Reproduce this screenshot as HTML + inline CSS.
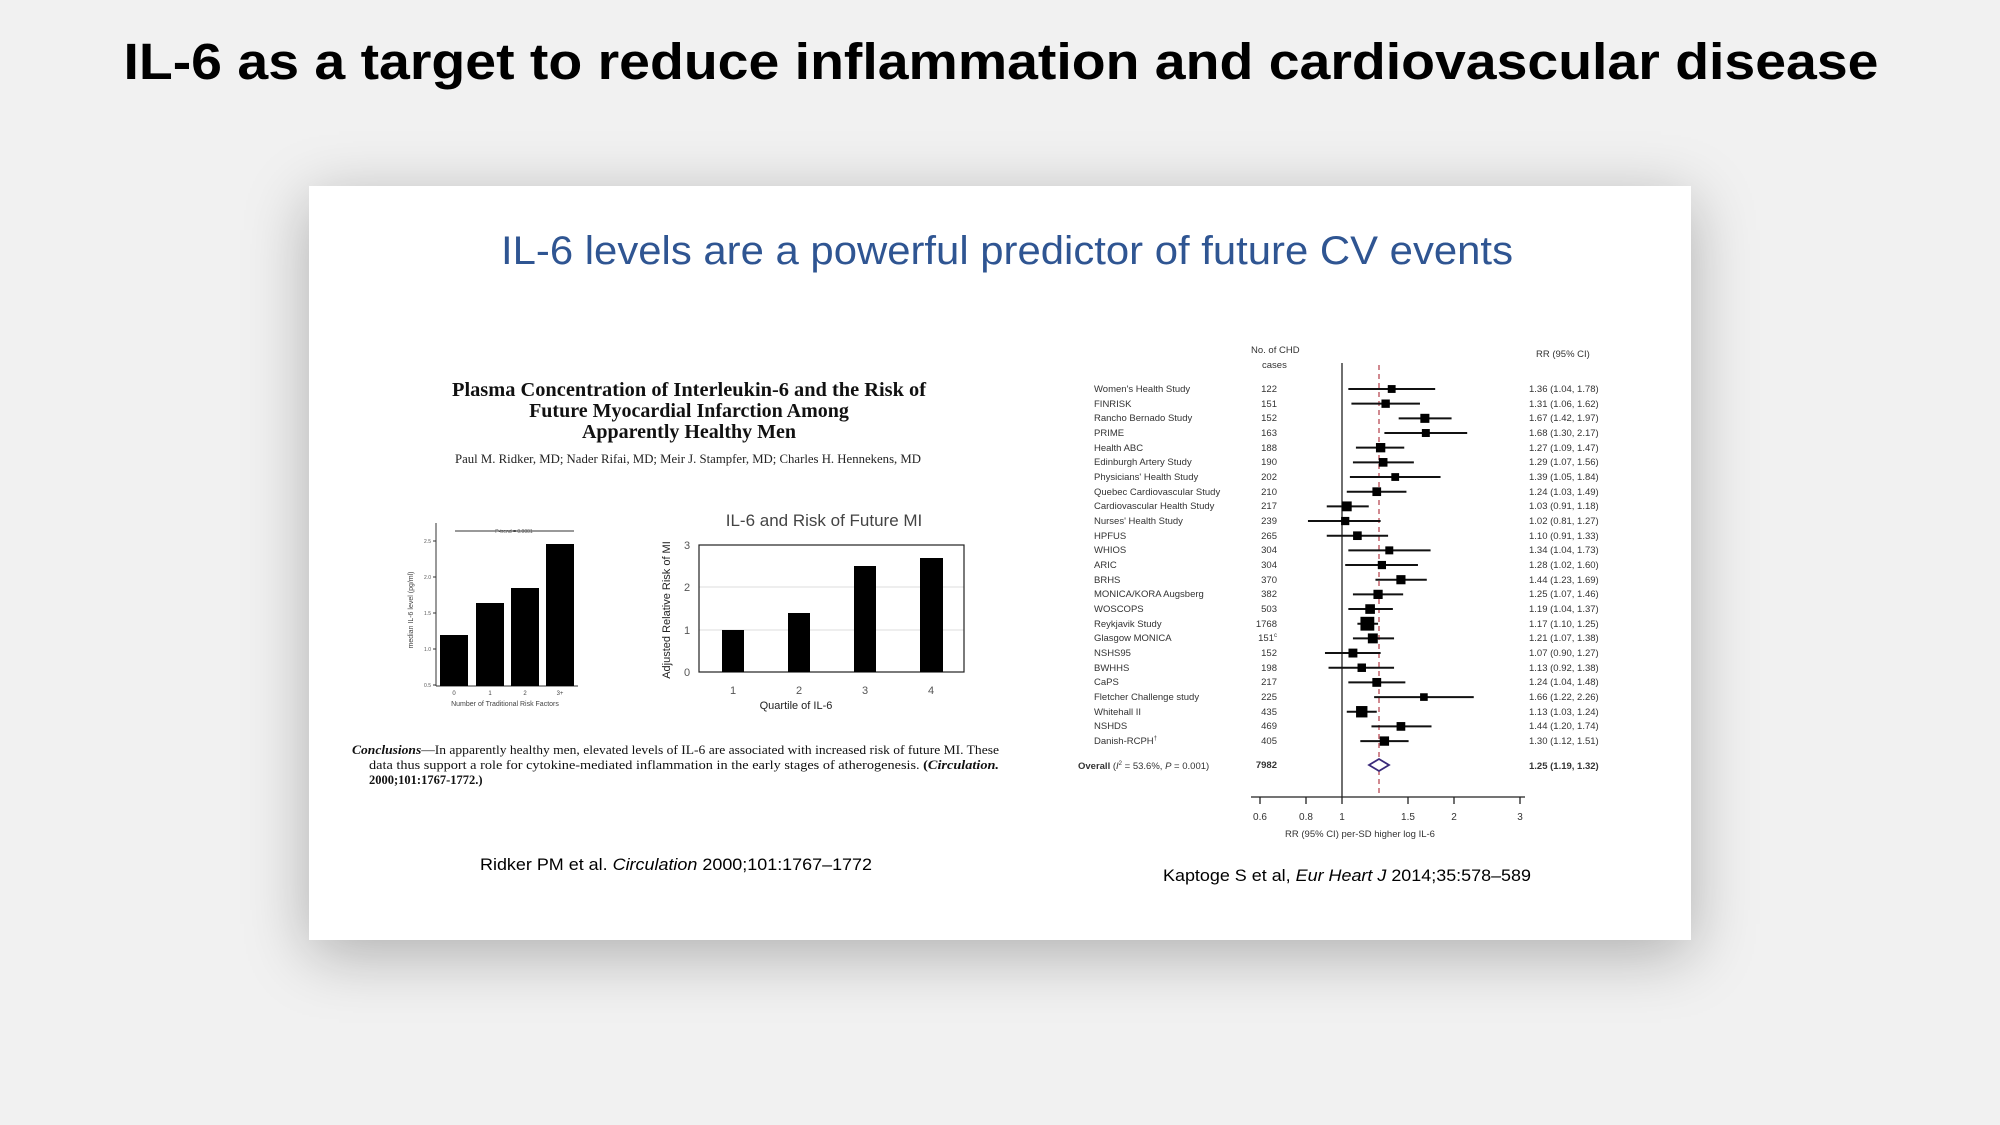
<!DOCTYPE html>
<html><head><meta charset="utf-8"><style>
html,body{margin:0;padding:0;}
body{width:2000px;height:1125px;background:#f1f1f1;position:relative;overflow:hidden;font-family:"Liberation Sans",sans-serif;}
.card{position:absolute;left:309px;top:186px;width:1382px;height:754px;background:#fff;box-shadow:0 14px 60px rgba(0,0,0,0.28);}
svg{position:absolute;left:0;top:0;}
</style></head><body>
<div class="card"></div>
<svg width="2000" height="1125" viewBox="0 0 2000 1125" xmlns="http://www.w3.org/2000/svg" font-family="Liberation Sans, sans-serif">
<text x="1001" y="79" font-size="51" font-weight="bold" text-anchor="middle" textLength="1755" lengthAdjust="spacingAndGlyphs" fill="#000">IL-6 as a target to reduce inflammation and cardiovascular disease</text>
<text x="1007" y="264" font-size="40" text-anchor="middle" textLength="1012" lengthAdjust="spacingAndGlyphs" fill="#2f5592">IL-6 levels are a powerful predictor of future CV events</text>

<g font-family="Liberation Serif, serif" font-weight="bold" font-size="20" text-anchor="middle" fill="#111">
<text x="689" y="396" textLength="474" lengthAdjust="spacingAndGlyphs">Plasma Concentration of Interleukin-6 and the Risk of</text>
<text x="689" y="417">Future Myocardial Infarction Among</text>
<text x="689" y="438">Apparently Healthy Men</text>
</g>
<text x="688" y="463" font-family="Liberation Serif, serif" font-size="12.5" text-anchor="middle" textLength="466" lengthAdjust="spacingAndGlyphs" fill="#222">Paul M. Ridker, MD; Nader Rifai, MD; Meir J. Stampfer, MD; Charles H. Hennekens, MD</text>

<g stroke="#333" stroke-width="1" fill="none">
<line x1="436" y1="523" x2="436" y2="686"/>
<line x1="436" y1="686" x2="578" y2="686"/>
<line x1="433" y1="541" x2="436" y2="541"/><line x1="433" y1="577" x2="436" y2="577"/><line x1="433" y1="613" x2="436" y2="613"/><line x1="433" y1="649" x2="436" y2="649"/><line x1="433" y1="685" x2="436" y2="685"/>
<line x1="455" y1="531" x2="574" y2="531"/>
</g>
<g fill="#000">
<rect x="440" y="635" width="28" height="51"/>
<rect x="476" y="603" width="28" height="83"/>
<rect x="511" y="588" width="28" height="98"/>
<rect x="546" y="544" width="28" height="142"/>
</g>
<g font-size="5" fill="#555" text-anchor="end">
<text x="431" y="543">2.5</text><text x="431" y="579">2.0</text><text x="431" y="615">1.5</text><text x="431" y="651">1.0</text><text x="431" y="687">0.5</text>
</g>
<text x="514" y="533" font-size="5" fill="#555" text-anchor="middle">P-trend = 0.0001</text>
<g font-size="6" fill="#444" text-anchor="middle">
<text x="454" y="695">0</text><text x="490" y="695">1</text><text x="525" y="695">2</text><text x="560" y="695">3+</text>
<text x="505" y="706" font-size="7">Number of Traditional Risk Factors</text>
<text transform="translate(413,610) rotate(-90)" font-size="7">median IL-6 level (pg/ml)</text>
</g>

<text x="824" y="526" font-size="17" fill="#444" text-anchor="middle">IL-6 and Risk of Future MI</text>
<g stroke="#ddd" stroke-width="1"><line x1="699" y1="587" x2="964" y2="587"/><line x1="699" y1="630" x2="964" y2="630"/></g>
<rect x="699" y="545" width="265" height="127" fill="none" stroke="#222" stroke-width="1.2"/>
<g fill="#000">
<rect x="722" y="630" width="22" height="42"/>
<rect x="788" y="613" width="22" height="59"/>
<rect x="854" y="566" width="22" height="106"/>
<rect x="920" y="558" width="23" height="114"/>
</g>
<g font-size="11" fill="#555" text-anchor="middle">
<text x="687" y="549">3</text><text x="687" y="591">2</text><text x="687" y="634">1</text><text x="687" y="676">0</text>
<text x="733" y="694">1</text><text x="799" y="694">2</text><text x="865" y="694">3</text><text x="931" y="694">4</text>
</g>
<text x="796" y="709" font-size="11" fill="#222" text-anchor="middle">Quartile of IL-6</text>
<text transform="translate(670,610) rotate(-90)" font-size="11" fill="#222" text-anchor="middle">Adjusted Relative Risk of MI</text>

<g font-family="Liberation Serif, serif" font-size="12.5" fill="#111">
<text x="352" y="754" textLength="647" lengthAdjust="spacingAndGlyphs"><tspan font-weight="bold" font-style="italic">Conclusions</tspan>—In apparently healthy men, elevated levels of IL-6 are associated with increased risk of future MI. These</text>
<text x="369" y="769" textLength="630" lengthAdjust="spacingAndGlyphs">data thus support a role for cytokine-mediated inflammation in the early stages of atherogenesis. <tspan font-weight="bold">(<tspan font-style="italic">Circulation.</tspan></tspan></text>
<text x="369" y="784" font-weight="bold">2000;101:1767-1772.)</text>
</g>

<text x="480" y="870" font-size="17" fill="#000" textLength="392" lengthAdjust="spacingAndGlyphs">Ridker PM et al. <tspan font-style="italic">Circulation</tspan> 2000;101:1767–1772</text>
<text x="1163" y="881" font-size="17" fill="#000" textLength="368" lengthAdjust="spacingAndGlyphs">Kaptoge S et al, <tspan font-style="italic">Eur Heart J</tspan> 2014;35:578–589</text>

<g font-size="9.5" fill="#333">
<text x="1251" y="353">No. of CHD</text>
<text x="1262" y="368">cases</text>
<text x="1536" y="357">RR (95% CI)</text>
</g>
<line x1="1342" y1="363" x2="1342" y2="797" stroke="#222" stroke-width="1.3"/>
<line x1="1379" y1="365" x2="1379" y2="797" stroke="#b84a55" stroke-width="1.3" stroke-dasharray="5,4"/>
<g id="forest"></g>
<g font-size="9.5" fill="#333">
<text x="1094" y="392">Women's Health Study</text><text x="1277" y="392" text-anchor="end">122</text><text x="1529" y="392">1.36 (1.04, 1.78)</text>
<text x="1094" y="407">FINRISK</text><text x="1277" y="407" text-anchor="end">151</text><text x="1529" y="407">1.31 (1.06, 1.62)</text>
<text x="1094" y="421">Rancho Bernado Study</text><text x="1277" y="421" text-anchor="end">152</text><text x="1529" y="421">1.67 (1.42, 1.97)</text>
<text x="1094" y="436">PRIME</text><text x="1277" y="436" text-anchor="end">163</text><text x="1529" y="436">1.68 (1.30, 2.17)</text>
<text x="1094" y="451">Health ABC</text><text x="1277" y="451" text-anchor="end">188</text><text x="1529" y="451">1.27 (1.09, 1.47)</text>
<text x="1094" y="465">Edinburgh Artery Study</text><text x="1277" y="465" text-anchor="end">190</text><text x="1529" y="465">1.29 (1.07, 1.56)</text>
<text x="1094" y="480">Physicians' Health Study</text><text x="1277" y="480" text-anchor="end">202</text><text x="1529" y="480">1.39 (1.05, 1.84)</text>
<text x="1094" y="495">Quebec Cardiovascular Study</text><text x="1277" y="495" text-anchor="end">210</text><text x="1529" y="495">1.24 (1.03, 1.49)</text>
<text x="1094" y="509">Cardiovascular Health Study</text><text x="1277" y="509" text-anchor="end">217</text><text x="1529" y="509">1.03 (0.91, 1.18)</text>
<text x="1094" y="524">Nurses' Health Study</text><text x="1277" y="524" text-anchor="end">239</text><text x="1529" y="524">1.02 (0.81, 1.27)</text>
<text x="1094" y="539">HPFUS</text><text x="1277" y="539" text-anchor="end">265</text><text x="1529" y="539">1.10 (0.91, 1.33)</text>
<text x="1094" y="553">WHIOS</text><text x="1277" y="553" text-anchor="end">304</text><text x="1529" y="553">1.34 (1.04, 1.73)</text>
<text x="1094" y="568">ARIC</text><text x="1277" y="568" text-anchor="end">304</text><text x="1529" y="568">1.28 (1.02, 1.60)</text>
<text x="1094" y="583">BRHS</text><text x="1277" y="583" text-anchor="end">370</text><text x="1529" y="583">1.44 (1.23, 1.69)</text>
<text x="1094" y="597">MONICA/KORA Augsberg</text><text x="1277" y="597" text-anchor="end">382</text><text x="1529" y="597">1.25 (1.07, 1.46)</text>
<text x="1094" y="612">WOSCOPS</text><text x="1277" y="612" text-anchor="end">503</text><text x="1529" y="612">1.19 (1.04, 1.37)</text>
<text x="1094" y="627">Reykjavik Study</text><text x="1277" y="627" text-anchor="end">1768</text><text x="1529" y="627">1.17 (1.10, 1.25)</text>
<text x="1094" y="641">Glasgow MONICA</text><text x="1277" y="641" text-anchor="end">151<tspan font-size="6" dy="-4">c</tspan></text><text x="1529" y="641">1.21 (1.07, 1.38)</text>
<text x="1094" y="656">NSHS95</text><text x="1277" y="656" text-anchor="end">152</text><text x="1529" y="656">1.07 (0.90, 1.27)</text>
<text x="1094" y="671">BWHHS</text><text x="1277" y="671" text-anchor="end">198</text><text x="1529" y="671">1.13 (0.92, 1.38)</text>
<text x="1094" y="685">CaPS</text><text x="1277" y="685" text-anchor="end">217</text><text x="1529" y="685">1.24 (1.04, 1.48)</text>
<text x="1094" y="700">Fletcher Challenge study</text><text x="1277" y="700" text-anchor="end">225</text><text x="1529" y="700">1.66 (1.22, 2.26)</text>
<text x="1094" y="715">Whitehall II</text><text x="1277" y="715" text-anchor="end">435</text><text x="1529" y="715">1.13 (1.03, 1.24)</text>
<text x="1094" y="729">NSHDS</text><text x="1277" y="729" text-anchor="end">469</text><text x="1529" y="729">1.44 (1.20, 1.74)</text>
<text x="1094" y="744">Danish-RCPH<tspan font-size="6" dy="-4">†</tspan></text><text x="1277" y="744" text-anchor="end">405</text><text x="1529" y="744">1.30 (1.12, 1.51)</text>
<text x="1078" y="769" font-weight="bold">Overall <tspan font-weight="normal">(<tspan font-style="italic">I</tspan><tspan font-size="6" dy="-4">2</tspan><tspan dy="4"> = 53.6%, </tspan><tspan font-style="italic">P</tspan> = 0.001)</tspan></text>
<text x="1277" y="768" text-anchor="end" font-weight="bold">7982</text>
<text x="1529" y="769" font-weight="bold">1.25 (1.19, 1.32)</text>
</g>
<polygon points="1369,765 1379,759 1389,765 1379,771" fill="#fff" stroke="#3a2a7a" stroke-width="1.8"/>
<g stroke="#222" stroke-width="1.3">
<line x1="1251" y1="797" x2="1525" y2="797"/>
<line x1="1260" y1="797" x2="1260" y2="804"/><line x1="1306" y1="797" x2="1306" y2="804"/><line x1="1342" y1="797" x2="1342" y2="804"/><line x1="1408" y1="797" x2="1408" y2="804"/><line x1="1454" y1="797" x2="1454" y2="804"/><line x1="1520" y1="797" x2="1520" y2="804"/>
</g>
<g font-size="10" fill="#333" text-anchor="middle">
<text x="1260" y="820">0.6</text><text x="1306" y="820">0.8</text><text x="1342" y="820">1</text><text x="1408" y="820">1.5</text><text x="1454" y="820">2</text><text x="1520" y="820">3</text>
<text x="1360" y="837" font-size="9.5">RR (95% CI) per-SD higher log IL-6</text>
</g>
<script>
(function(){
var d=[[1.36,1.04,1.78],[1.31,1.06,1.62],[1.67,1.42,1.97],[1.68,1.30,2.17],[1.27,1.09,1.47],[1.29,1.07,1.56],[1.39,1.05,1.84],[1.24,1.03,1.49],[1.03,0.91,1.18],[1.02,0.81,1.27],[1.10,0.91,1.33],[1.34,1.04,1.73],[1.28,1.02,1.60],[1.44,1.23,1.69],[1.25,1.07,1.46],[1.19,1.04,1.37],[1.17,1.10,1.25],[1.21,1.07,1.38],[1.07,0.90,1.27],[1.13,0.92,1.38],[1.24,1.04,1.48],[1.66,1.22,2.26],[1.13,1.03,1.24],[1.44,1.20,1.74],[1.30,1.12,1.51]];
var g=document.getElementById('forest'),ns='http://www.w3.org/2000/svg',k=161.6;
function X(v){return 1342+k*Math.log(v);}
d.forEach(function(r,i){
 var y=389+i*14.67;
 var l=document.createElementNS(ns,'line');
 l.setAttribute('x1',X(r[1]));l.setAttribute('x2',X(r[2]));l.setAttribute('y1',y);l.setAttribute('y2',y);
 l.setAttribute('stroke','#111');l.setAttribute('stroke-width','2');g.appendChild(l);
 var w=Math.log(r[2]/r[1]);var s=Math.min(14,6+1.0/w);
 var q=document.createElementNS(ns,'rect');
 q.setAttribute('x',X(r[0])-s/2);q.setAttribute('y',y-s/2);q.setAttribute('width',s);q.setAttribute('height',s);q.setAttribute('fill','#000');g.appendChild(q);
});
})();
</script>
</svg>
</body></html>
